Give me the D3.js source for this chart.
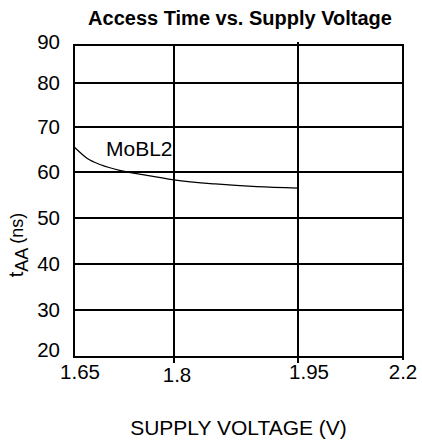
<!DOCTYPE html>
<html>
<head>
<meta charset="utf-8">
<script src="https://cdn.jsdelivr.net/npm/d3@7"></script>
<style>
  body { margin: 0; background: #fff; }
  text { font-family: "Liberation Sans", Arial, sans-serif; fill: #000; }
</style>
</head>
<body>
<div id="chart"></div>
<script>
// x ticks sit at uneven spacing in the original, so the scale is piecewise
const xTicks = [1.65, 1.8, 1.95, 2.2];
const yTicks = [20, 30, 40, 50, 60, 70, 80, 90];

// MoBL2 access time curve (ns)
const voltage = [1.65, 1.67, 1.69, 1.72, 1.75, 1.8, 1.85, 1.9, 1.95];
const accessTime = [65.6, 63.0, 61.6, 60.3, 59.5, 58.3, 57.4, 56.8, 56.5];

const width = 422, height = 440;

const svg = d3.select("#chart").append("svg")
    .attr("width", width)
    .attr("height", height);

const x = d3.scaleLinear()
    .domain(xTicks)
    .range([74, 174, 298, 403]);

const y = d3.scaleLinear()
    .domain(yTicks)
    .range([357, 310, 264, 218, 172, 127, 83, 45]);

// horizontal grid
svg.append("g")
    .selectAll("line")
    .data(yTicks)
    .enter().append("line")
    .attr("x1", x(1.65) - 1)
    .attr("x2", x(2.2) + 1)
    .attr("y1", d => y(d))
    .attr("y2", d => y(d))
    .attr("stroke", "#000")
    .attr("stroke-width", 2);

// vertical grid, with small ticks below the axis
svg.append("g")
    .selectAll("line")
    .data(xTicks)
    .enter().append("line")
    .attr("x1", d => x(d))
    .attr("x2", d => x(d))
    .attr("y1", d => d === 1.95 ? y(90) - 3 : y(90) - 1)
    .attr("y2", d => d === 1.65 ? y(20) + 1 : (d === 2.2 ? y(20) + 3 : y(20) + 6))
    .attr("stroke", "#000")
    .attr("stroke-width", 2);

// y tick labels
svg.append("g")
    .selectAll("text")
    .data(yTicks)
    .enter().append("text")
    .attr("x", 60)
    .attr("y", d => y(d) + (d === 90 ? 3.5 : d === 20 ? 0 : 7))
    .attr("text-anchor", "end")
    .style("font-size", "20.5px")
    .text(d => d);

// x tick labels (1.8 sits a bit lower in the original)
svg.append("g")
    .selectAll("text")
    .data(xTicks)
    .enter().append("text")
    .attr("x", (d, i) => x(d) + [6, 3, 11, 0][i])
    .attr("y", d => d === 1.8 ? 382 : 378.5)
    .attr("text-anchor", "middle")
    .style("font-size", "20.5px")
    .text(d => d);

// the curve
const line = d3.line()
    .x(d => x(d[0]))
    .y(d => y(d[1]))
    .curve(d3.curveMonotoneX);

svg.append("path")
    .datum(voltage.map((v, i) => [v, accessTime[i]]))
    .attr("d", line)
    .attr("fill", "none")
    .attr("stroke", "#000")
    .attr("stroke-width", 1.2);

svg.append("text")
    .attr("x", 106)
    .attr("y", 156)
    .style("font-size", "21px")
    .text("MoBL2");

// title
svg.append("text")
    .attr("x", 240)
    .attr("y", 25)
    .attr("text-anchor", "middle")
    .style("font-size", "20px")
    .style("font-weight", "bold")
    .text("Access Time vs. Supply Voltage");

// x axis title
svg.append("text")
    .attr("x", 238.5)
    .attr("y", 435)
    .attr("text-anchor", "middle")
    .style("font-size", "21px")
    .text("SUPPLY VOLTAGE (V)");

// y axis title with subscript
const yTitle = svg.append("text")
    .attr("transform", "translate(23,245) rotate(-90)")
    .attr("text-anchor", "middle");
yTitle.append("tspan").style("font-size", "20px").text("t");
yTitle.append("tspan").style("font-size", "18px").attr("dy", 5).text("AA");
yTitle.append("tspan").style("font-size", "18px").attr("dy", -5).text(" (ns)");
</script>
</body>
</html>
